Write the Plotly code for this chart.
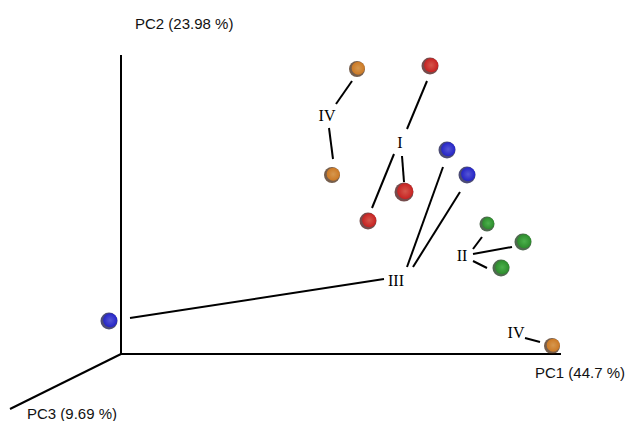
import plotly.graph_objects as go

# Projected PCoA coordinates of each sample (screen-space projection of the 3-D ordination)
sample_x = [357, 332, 430, 404, 368, 447, 467, 109, 487, 523, 501, 552]
sample_y = [69, 175, 66, 192, 221, 150, 175, 321, 224, 242, 268, 346]
sample_group = ["IV", "IV", "I", "I", "I", "III", "III", "III", "II", "II", "II", "IV"]
sample_size = [16, 16, 17, 19, 17, 17, 17, 17, 15, 17, 17, 16]

# (highlight, body, shadow) colours per group
group_colors = {
    "I": ("#ff5a4a", "#e81010", "#3a0000"),
    "II": ("#4ad04a", "#1e9a1e", "#062a06"),
    "III": ("#5a5aff", "#1414e8", "#00003a"),
    "IV": ("#ffb050", "#f08414", "#3a1a00"),
}

# Group labels and their connector segments (start x, start y, end x, end y)
label_text = ["IV", "I", "III", "II", "IV"]
label_x = [327, 400, 396, 462, 516]
label_y = [117, 144, 282, 257, 334]
connectors = [
    (352, 81, 336, 104), (329, 128, 333, 159),
    (427, 81, 407, 129), (402, 156, 404, 182), (394, 154, 372, 208),
    (443, 167, 407, 267), (460, 192, 413, 267), (130, 318, 384, 279),
    (473, 249, 482, 237), (473, 254, 512, 247), (473, 261, 487, 268),
    (525, 338, 540, 342),
]

# Ordination axes
origin = (121, 354)
axis_ends = [(121, 55), (561, 354), (10, 409)]
axis_names = ["PC2 (23.98 %)", "PC1 (44.7 %)", "PC3 (9.69 %)"]
axis_label_pos = [(184, 23), (580, 372), (72, 413)]

fig = go.Figure()

for ex, ey in axis_ends:
    fig.add_trace(go.Scatter(x=[origin[0], ex], y=[origin[1], ey], mode="lines",
                             line=dict(color="black", width=2), hoverinfo="skip"))

for x0, y0, x1, y1 in connectors:
    fig.add_trace(go.Scatter(x=[x0, x1], y=[y0, y1], mode="lines",
                             line=dict(color="black", width=2), hoverinfo="skip"))

for g in ["I", "II", "III", "IV"]:
    idx = [i for i, s in enumerate(sample_group) if s == g]
    hi, body, shadow = group_colors[g]
    xs = [sample_x[i] for i in idx]
    ys = [sample_y[i] for i in idx]
    sz = [sample_size[i] for i in idx]
    # shaded base of the sphere
    fig.add_trace(go.Scatter(
        x=xs, y=ys, mode="markers",
        marker=dict(size=sz, color=shadow, line=dict(width=0)),
        hoverinfo="skip"))
    # lit part, shifted towards the light source (upper right)
    fig.add_trace(go.Scatter(
        x=[v + 1.2 for v in xs], y=[v - 0.8 for v in ys], mode="markers",
        marker=dict(size=[s - 3 for s in sz], color=body,
                    gradient=dict(type="radial", color=hi),
                    line=dict(width=0)),
        name=g))

fig.add_trace(go.Scatter(x=label_x, y=label_y, mode="text", text=label_text,
                         textfont=dict(family="Liberation Serif", size=16, color="black"),
                         hoverinfo="skip"))

for name, (lx, ly) in zip(axis_names, axis_label_pos):
    fig.add_annotation(x=lx, y=ly, text=name, showarrow=False,
                       font=dict(family="Liberation Sans", size=15, color="#111"))

fig.update_layout(
    width=626, height=421, margin=dict(l=0, r=0, t=0, b=0),
    paper_bgcolor="white", plot_bgcolor="white", showlegend=False,
    xaxis=dict(range=[0, 626], visible=False, fixedrange=True),
    yaxis=dict(range=[421, 0], visible=False, fixedrange=True),
)

fig.write_html("out.html")
